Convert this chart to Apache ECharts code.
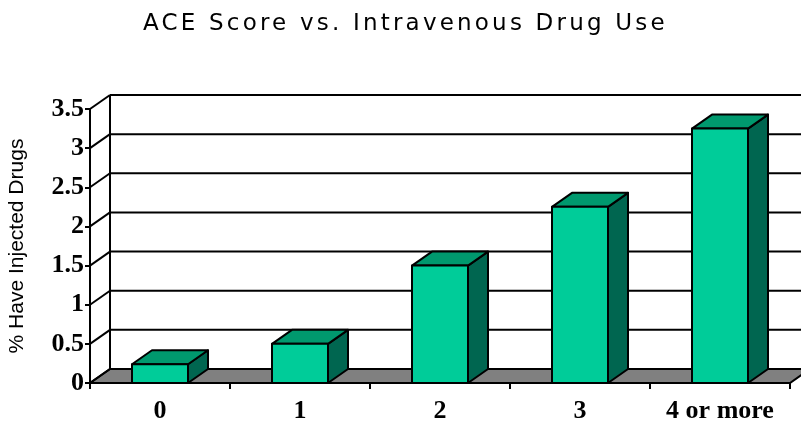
<!DOCTYPE html>
<html>
<head>
<meta charset="utf-8">
<title>ACE Score vs. Intravenous Drug Use</title>
<script src="https://cdn.jsdelivr.net/npm/echarts@6/dist/echarts.min.js"></script>
<style>
  html, body { margin: 0; padding: 0; background: #fff; }
  #chart { width: 801px; height: 425px; }
</style>
</head>
<body>
<div id="chart"></div>
<script>
// data
var categories = ['0', '1', '2', '3', '4 or more'];
var percentInjected = [0.24, 0.5, 1.5, 2.25, 3.25];
var yTicks = [0, 0.5, 1, 1.5, 2, 2.5, 3, 3.5];

// depth of the fake 3d box, in pixels
var DX = 20, DY = -14;

var frontColor = '#00CC99';
var topColor = '#00996E';
var sideColor = '#006650';
var floorColor = '#808080';

var serifBold = { fontFamily: 'Liberation Serif', fontWeight: 'bold', fontSize: 26, color: '#000' };

// the title in the picture is spaced out, canvas can do that but zrender never sets it
var titleFont = 'DejaVu Sans';
['fillText', 'measureText'].forEach(function (fn) {
  var orig = CanvasRenderingContext2D.prototype[fn];
  CanvasRenderingContext2D.prototype[fn] = function () {
    var spaced = this.font.indexOf(titleFont) >= 0;
    if (spaced) this.letterSpacing = '3.2px';
    var r = orig.apply(this, arguments);
    if (spaced) this.letterSpacing = '0px';
    return r;
  };
});

// walls: left side diagonals, back wall gridlines and the grey floor
function renderWalls(params, api) {
  var cs = params.coordSys;
  var v = api.value(1);
  var y = api.coord([0, v])[1];
  var x0 = cs.x, x1 = cs.x + cs.width;
  var line = { stroke: '#000', lineWidth: 2 };
  var children = [];
  if (v === 0) {
    children.push({
      type: 'polygon',
      shape: { points: [[x0, y], [x1, y], [x1 + DX, y + DY], [x0 + DX, y + DY]] },
      style: { fill: floorColor, stroke: '#000', lineWidth: 2 }
    });
    // back wall left edge
    children.push({
      type: 'line',
      shape: { x1: x0 + DX, y1: y + DY, x2: x0 + DX, y2: cs.y + DY },
      style: line
    });
  } else {
    children.push({
      type: 'line',
      shape: { x1: x0 + DX, y1: y + DY, x2: x1 + DX, y2: y + DY },
      style: line
    });
  }
  children.push({
    type: 'line',
    shape: { x1: x0, y1: y, x2: x0 + DX, y2: y + DY },
    style: line
  });
  return { type: 'group', children: children };
}

function renderBar(params, api) {
  var c = api.coord([api.value(0), api.value(1)]);
  var base = api.coord([api.value(0), 0]);
  var w = api.size([1, 0])[0] * 0.4;
  var xl = c[0] - w / 2, xr = c[0] + w / 2;
  var yt = c[1], yb = base[1];
  var edge = { stroke: '#000', lineWidth: 2, lineJoin: 'round' };
  return {
    type: 'group',
    children: [
      {
        type: 'polygon',
        shape: { points: [[xr, yt], [xr, yb], [xr + DX, yb + DY], [xr + DX, yt + DY]] },
        style: Object.assign({ fill: sideColor }, edge)
      },
      {
        type: 'polygon',
        shape: { points: [[xl, yt], [xr, yt], [xr + DX, yt + DY], [xl + DX, yt + DY]] },
        style: Object.assign({ fill: topColor }, edge)
      },
      {
        type: 'rect',
        shape: { x: xl, y: yt, width: w, height: yb - yt },
        style: Object.assign({ fill: frontColor }, edge)
      }
    ]
  };
}

var chart = echarts.init(document.getElementById('chart'));
var option = {
  animation: false,
  backgroundColor: '#fff',
  title: {
    text: 'ACE Score vs. Intravenous Drug Use',
    left: 138,
    top: 6,
    textStyle: { fontFamily: titleFont, fontWeight: 'normal', fontSize: 23, color: '#000' }
  },
  grid: { left: 90, right: 11, top: 109, bottom: 42, outerBoundsMode: 'none', containLabel: false },
  xAxis: {
    type: 'category',
    data: categories,
    z: 5,
    axisLine: { lineStyle: { color: '#000', width: 2 } },
    axisTick: { show: true, length: 6, lineStyle: { color: '#000', width: 2 } },
    axisLabel: Object.assign({ margin: 15, interval: 0 }, serifBold)
  },
  yAxis: {
    type: 'value',
    min: 0,
    max: 3.5,
    interval: 0.5,
    z: 5,
    name: '% Have Injected Drugs',
    nameLocation: 'middle',
    nameGap: 62,
    nameTextStyle: { fontFamily: 'Liberation Sans', fontSize: 21, color: '#000' },
    axisLine: { show: true, lineStyle: { color: '#000', width: 2 } },
    axisTick: { show: true, length: 5, lineStyle: { color: '#000', width: 2 } },
    axisLabel: Object.assign({ margin: 6 }, serifBold),
    splitLine: { show: false }
  },
  series: [
    {
      type: 'custom',
      name: 'walls',
      z: 1,
      silent: true,
      renderItem: renderWalls,
      data: yTicks.map(function (v) { return [0, v]; })
    },
    {
      type: 'custom',
      name: '% Have Injected Drugs',
      z: 3,
      renderItem: renderBar,
      data: percentInjected.map(function (v, i) { return [i, v]; })
    }
  ]
};
chart.setOption(option);
</script>
</body>
</html>
